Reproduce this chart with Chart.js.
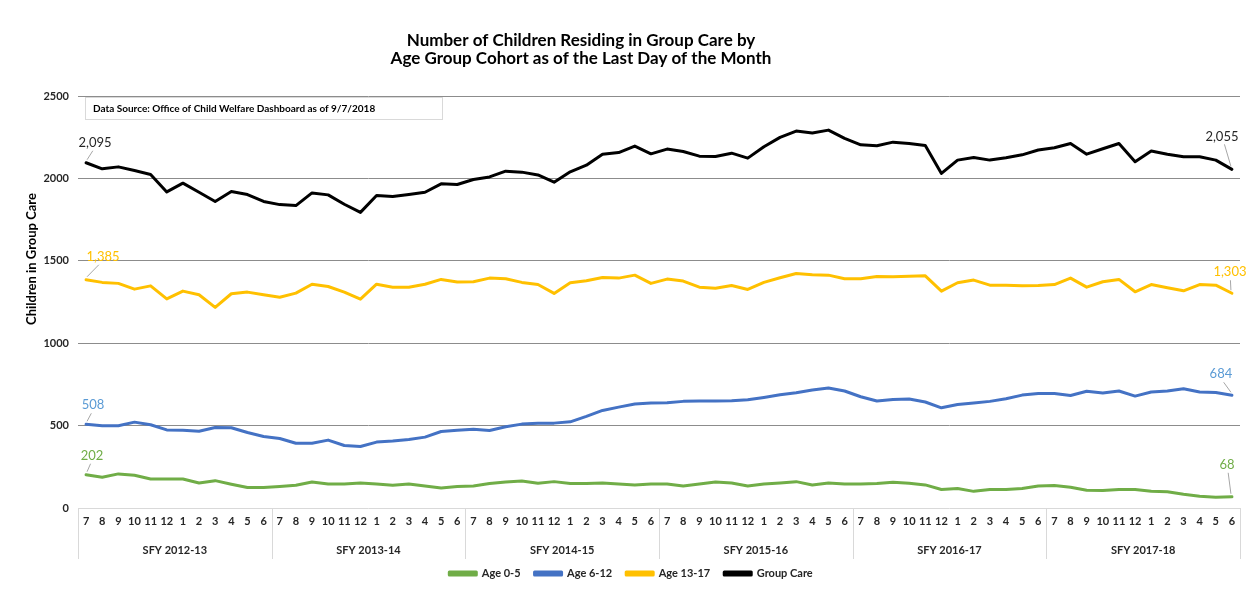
<!DOCTYPE html>
<html>
<head>
<meta charset="utf-8">
<script src="https://cdn.jsdelivr.net/npm/chart.js@4.4.1/dist/chart.umd.min.js"></script>
<style>
    body { margin: 0; background: #fff; }
    #wrap { width: 1250px; height: 589px; }
</style>
</head>
<body>
<div id="wrap"><canvas id="groupCareChart" width="1250" height="589"></canvas></div>
<script>
// Months of each state fiscal year (July - June)
const months = ['7', '8', '9', '10', '11', '12', '1', '2', '3', '4', '5', '6'];
const fiscalYears = ['SFY 2012-13', 'SFY 2013-14', 'SFY 2014-15', 'SFY 2015-16', 'SFY 2016-17', 'SFY 2017-18'];
const yTicks = [0, 500, 1000, 1500, 2000, 2500];

const age0to5 = [
    202, 187, 207, 199, 176, 176, 176, 152, 166, 144, 124, 124,
    130, 138, 158, 146, 146, 152, 146, 138, 146, 134, 122, 130,
    134, 148, 158, 164, 150, 160, 148, 148, 152, 146, 140, 146,
    146, 134, 146, 158, 152, 134, 146, 152, 160, 140, 152, 146,
    146, 148, 156, 150, 140, 112, 118, 101, 112, 112, 118, 134,
    136, 126, 108, 106, 112, 112, 101, 99, 83, 71, 65, 68
];
const age6to12 = [
    508, 499, 499, 521, 505, 474, 472, 466, 488, 487, 458, 434,
    422, 393, 393, 412, 379, 373, 400, 406, 416, 430, 464, 472,
    478, 470, 493, 509, 515, 515, 523, 556, 592, 612, 631, 637,
    639, 647, 649, 649, 651, 657, 671, 687, 699, 716, 728, 710,
    675, 649, 659, 661, 643, 608, 628, 637, 647, 663, 685, 695,
    695, 683, 708, 698, 710, 679, 704, 710, 724, 704, 701, 684
];
const age13to17 = [
    1385, 1369, 1363, 1328, 1348, 1269, 1316, 1294, 1217, 1300, 1310, 1294,
    1279, 1304, 1358, 1344, 1310, 1267, 1358, 1340, 1340, 1358, 1387, 1371,
    1373, 1395, 1391, 1369, 1356, 1302, 1367, 1379, 1399, 1395, 1413, 1363,
    1389, 1377, 1340, 1334, 1350, 1326, 1369, 1397, 1423, 1415, 1413, 1391,
    1391, 1405, 1403, 1407, 1409, 1316, 1367, 1383, 1352, 1352, 1348, 1350,
    1356, 1395, 1340, 1373, 1387, 1312, 1356, 1336, 1318, 1356, 1352, 1303
];
const groupCare = [
    2095, 2058, 2070, 2048, 2024, 1918, 1971, 1916, 1860, 1920, 1902, 1860,
    1841, 1835, 1912, 1900, 1843, 1794, 1896, 1890, 1902, 1916, 1967, 1963,
    1993, 2009, 2044, 2038, 2021, 1977, 2040, 2080, 2147, 2157, 2196, 2149,
    2178, 2163, 2135, 2133, 2153, 2123, 2192, 2249, 2287, 2275, 2293, 2243,
    2204, 2198, 2220, 2212, 2200, 2030, 2111, 2127, 2111, 2125, 2143, 2172,
    2186, 2212, 2147, 2180, 2212, 2101, 2166, 2147, 2131, 2131, 2111, 2055
];

const FONT = 'Lato, "Open Sans", sans-serif';

// one label per month, repeated for every fiscal year
const labels = fiscalYears.flatMap(() => months);

// first/last value labels: offset from the point and colour
const endLabels = [
    { ds: 0, color: '#70AD47', first: [6, -19], last: [-5, -32] },
    { ds: 1, color: '#5B9BD5', first: [7, -19], last: [-11, -21] },
    { ds: 2, color: '#FFC000', first: [17, -23], last: [-2, -21] },
    { ds: 3, color: '#262626', first: [9, -20], last: [-10, -33] }
];

const extrasPlugin = {
    id: 'extras',
    afterDraw(chart) {
        const { ctx, chartArea } = chart;
        const x = chart.scales.x;
        const step = x.getPixelForValue(1) - x.getPixelForValue(0);

        ctx.save();

        // Title
        ctx.fillStyle = '#000';
        ctx.font = 'bold 17px ' + FONT;
        ctx.textAlign = 'center';
        ctx.textBaseline = 'middle';
        ctx.fillText('Number of Children Residing in Group Care by', 581, 41);
        ctx.fillText('Age Group Cohort as of the Last Day of the Month', 581, 59);

        // Y axis title
        ctx.save();
        ctx.translate(32, 259);
        ctx.rotate(-Math.PI / 2);
        ctx.font = 'bold 13px ' + FONT;
        ctx.fillText('Children in Group Care', 0, 0);
        ctx.restore();

        // Data source box
        ctx.fillStyle = '#fff';
        ctx.fillRect(chartArea.left + 7, chartArea.top + 1, 357, 22);
        ctx.strokeStyle = '#d9d9d9';
        ctx.lineWidth = 1;
        ctx.strokeRect(chartArea.left + 7.5, chartArea.top + 1.5, 357, 22);
        ctx.fillStyle = '#000';
        ctx.font = 'bold 10px ' + FONT;
        ctx.textAlign = 'left';
        ctx.fillText('Data Source: Office of Child Welfare Dashboard as of 9/7/2018', chartArea.left + 15, chartArea.top + 12.5);

        // Fiscal year separators and labels
        ctx.strokeStyle = '#d9d9d9';
        ctx.beginPath();
        for (let k = 0; k <= fiscalYears.length; k++) {
            const sx = Math.round(x.getPixelForValue(k * 12) - step / 2) + 0.5;
            ctx.moveTo(sx, chartArea.bottom);
            ctx.lineTo(sx, chartArea.bottom + 51);
        }
        ctx.stroke();

        ctx.fillStyle = '#262626';
        ctx.font = 'bold 11px ' + FONT;
        ctx.textAlign = 'center';
        fiscalYears.forEach((fy, k) => {
            const cx = (x.getPixelForValue(k * 12) + x.getPixelForValue(k * 12 + 11)) / 2;
            ctx.fillText(fy, cx, chartArea.bottom + 42);
        });

        // First and last value labels with leader lines
        ctx.font = '13px ' + FONT;
        endLabels.forEach(cfg => {
            const meta = chart.getDatasetMeta(cfg.ds);
            const values = chart.data.datasets[cfg.ds].data;
            [[0, cfg.first], [values.length - 1, cfg.last]].forEach(([idx, off]) => {
                const pt = meta.data[idx];
                const lx = pt.x + off[0];
                const ly = pt.y + off[1];
                ctx.strokeStyle = '#a6a6a6';
                ctx.beginPath();
                ctx.moveTo(pt.x + (off[0] > 0 ? 1 : -1), pt.y - 3);
                ctx.lineTo(lx - off[0] * 0.25, ly + 8);
                ctx.stroke();
                ctx.fillStyle = cfg.color;
                ctx.fillText(values[idx].toLocaleString('en-US'), lx, ly);
            });
        });

        ctx.restore();
    }
};

new Chart(document.getElementById('groupCareChart'), {
    type: 'line',
    data: {
        labels: labels,
        datasets: [
            { label: 'Age 0-5', data: age0to5, borderColor: '#70AD47', backgroundColor: '#70AD47' },
            { label: 'Age 6-12', data: age6to12, borderColor: '#4472C4', backgroundColor: '#4472C4' },
            { label: 'Age 13-17', data: age13to17, borderColor: '#FFC000', backgroundColor: '#FFC000' },
            { label: 'Group Care', data: groupCare, borderColor: '#000000', backgroundColor: '#000000' }
        ]
    },
    options: {
        responsive: false,
        animation: false,
        layout: {
            padding: { top: 96, right: 10, bottom: 0, left: 22 }
        },
        elements: {
            line: { borderWidth: 3, tension: 0, borderJoinStyle: 'round', borderCapStyle: 'round' },
            point: { radius: 0, hoverRadius: 0 }
        },
        plugins: {
            title: { display: false },
            tooltip: { enabled: false },
            legend: {
                position: 'bottom',
                labels: {
                    boxWidth: 27,
                    boxHeight: 3,
                    padding: 14,
                    color: '#262626',
                    font: { family: FONT, size: 11, weight: 'bold' }
                }
            }
        },
        scales: {
            x: {
                offset: true,
                grid: { display: false, drawTicks: false },
                border: { display: false },
                ticks: {
                    autoSkip: false,
                    maxRotation: 0,
                    padding: 7,
                    color: '#262626',
                    font: { family: FONT, size: 11, weight: 'bold' }
                },
                afterFit(scale) { scale.height = 46; }
            },
            y: {
                min: yTicks[0],
                max: yTicks[yTicks.length - 1],
                afterBuildTicks(scale) { scale.ticks = yTicks.map(v => ({ value: v })); },
                grid: {
                    drawTicks: false,
                    color: c => (c.tick && c.tick.value === 0) ? '#d9d9d9' : '#8c8c8c'
                },
                border: { display: false },
                ticks: {
                    padding: 9,
                    color: '#262626',
                    font: { family: FONT, size: 11, weight: 'bold' },
                    callback: v => String(v)
                },
                afterFit(scale) { scale.width = 56; }
            }
        }
    },
    plugins: [extrasPlugin]
});
</script>
</body>
</html>
